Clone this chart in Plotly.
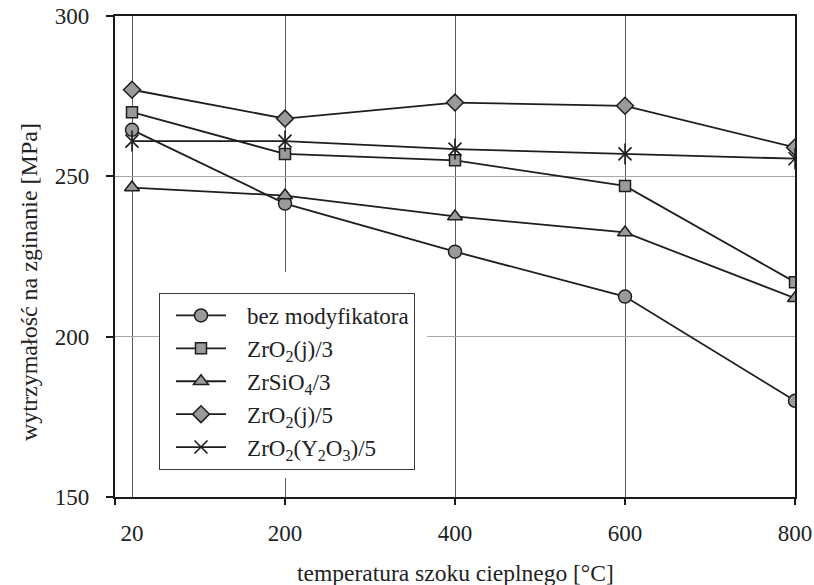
import plotly.graph_objects as go

# Flexural strength after thermal shock
temperature = [20, 200, 400, 600, 800]
x_tick_labels = ["20", "200", "400", "600", "800"]

bez_modyfikatora = [264.5, 241.5, 226.5, 212.5, 180.0]
zro2_j_3 = [270.0, 257.0, 255.0, 247.0, 217.0]
zrsio4_3 = [246.5, 244.0, 237.5, 232.5, 212.0]
zro2_j_5 = [277.0, 268.0, 273.0, 272.0, 259.0]
zro2_y2o3_5 = [261.0, 261.0, 258.5, 257.0, 255.5]

series_names = [
    "bez modyfikatora",
    "ZrO<sub>2</sub>(j)/3",
    "ZrSiO<sub>4</sub>/3",
    "ZrO<sub>2</sub>(j)/5",
    "ZrO<sub>2</sub>(Y<sub>2</sub>O<sub>3</sub>)/5",
]

FONT = "Liberation Serif, Times New Roman, Times, serif"
TEXT = "#222222"
LINE = "#1e1e1e"
FILL = "#9a9a9a"
PAD = "\u2002\u2009"  # gap between legend sample and its label

fig = go.Figure()

styles = [
    (bez_modyfikatora, "circle", 13),
    (zro2_j_3, "square", 11),
    (zrsio4_3, "triangle-up", 13),
    (zro2_j_5, "diamond", 13),
]
for i, (name, (vals, sym, size)) in enumerate(zip(series_names[:4], styles)):
    fig.add_trace(go.Scatter(
        x=temperature, y=vals, name=PAD + name, legendgroup=f"g{i}",
        mode="lines+markers",
        line=dict(color=LINE, width=1.8),
        marker=dict(symbol=sym, size=size, color=FILL,
                    line=dict(color=LINE, width=1.5)),
    ))

# six-armed star: diagonal cross plus a vertical stroke
fig.add_trace(go.Scatter(
    x=temperature, y=zro2_y2o3_5, name=PAD + series_names[4], legendgroup="g4",
    mode="lines+markers",
    line=dict(color=LINE, width=1.8),
    marker=dict(symbol="x-thin-open", size=13, color=LINE,
                line=dict(color=LINE, width=1.6)),
))
fig.add_trace(go.Scatter(
    x=temperature, y=zro2_y2o3_5, mode="markers", showlegend=False,
    legendgroup="g4", hoverinfo="skip",
    marker=dict(symbol="line-ns-open", size=15, color=LINE,
                line=dict(color=LINE, width=1.6)),
))

# secondary x axis carrying the tick marks at the round hundreds
fig.add_trace(go.Scatter(x=[0, 800], y=[150, 150], xaxis="x2", mode="none",
                         showlegend=False, hoverinfo="skip"))

fig.update_layout(
    width=814, height=585,
    margin=dict(l=115, r=19, t=16, b=88),
    paper_bgcolor="white", plot_bgcolor="white",
    font=dict(family=FONT, size=23, color=TEXT),
    showlegend=True,
    xaxis=dict(
        range=[0, 800], tickvals=temperature, ticktext=x_tick_labels,
        showgrid=True, gridcolor="#5a5a5a", gridwidth=1,
        zeroline=False, showline=True, mirror=True, automargin=False,
        linecolor="#1a1a1a", linewidth=2.2, ticks="",
        ticklabelstandoff=14,
        tickfont=dict(family=FONT, size=23, color=TEXT),
    ),
    xaxis2=dict(
        range=[0, 800], overlaying="x", anchor="y", side="bottom",
        tickvals=[0, 200, 400, 600, 800], ticks="outside", ticklen=7,
        tickwidth=2, tickcolor="#1a1a1a", showticklabels=False,
        showgrid=False, zeroline=False, showline=False, automargin=False,
    ),
    yaxis=dict(
        range=[150, 300], tickvals=[150, 200, 250, 300],
        showgrid=True, gridcolor="#a8a8a8", gridwidth=1,
        zeroline=False, showline=True, mirror=True, automargin=False,
        linecolor="#1a1a1a", linewidth=2.2,
        ticks="outside", ticklen=7, tickwidth=2, tickcolor="#1a1a1a",
        ticklabelstandoff=12,
        tickfont=dict(family=FONT, size=23, color=TEXT),
    ),
    legend=dict(
        x=(159 - 115) / 680, y=(497 - 293) / 481,
        xanchor="left", yanchor="top",
        bgcolor="white", bordercolor="#3a3a3a", borderwidth=1,
        font=dict(family=FONT, size=23, color=TEXT),
        indentation=11, itemwidth=50, tracegroupgap=0,
    ),
    annotations=[
        dict(text="temperatura szoku cieplnego [°C]", xref="paper", yref="paper",
             x=0.5, y=(497 - 573) / 481, xanchor="center", yanchor="middle",
             showarrow=False, font=dict(family=FONT, size=23.5, color=TEXT)),
        dict(text="wytrzymałość na zginanie [MPa]", xref="paper", yref="paper",
             x=(29 - 115) / 680, y=(497 - 282) / 481, xanchor="center",
             yanchor="middle", textangle=-90, showarrow=False,
             font=dict(family=FONT, size=24, color=TEXT)),
    ],
    shapes=[
        # blank margin around the legend box
        dict(type="rect", xref="paper", yref="paper", layer="above",
             x0=(159 - 115) / 680, x1=(427 - 115) / 680,
             y0=(497 - 478) / 481, y1=(497 - 272) / 481,
             fillcolor="white", line=dict(width=0)),
    ],
)

fig.write_html("out.html")
